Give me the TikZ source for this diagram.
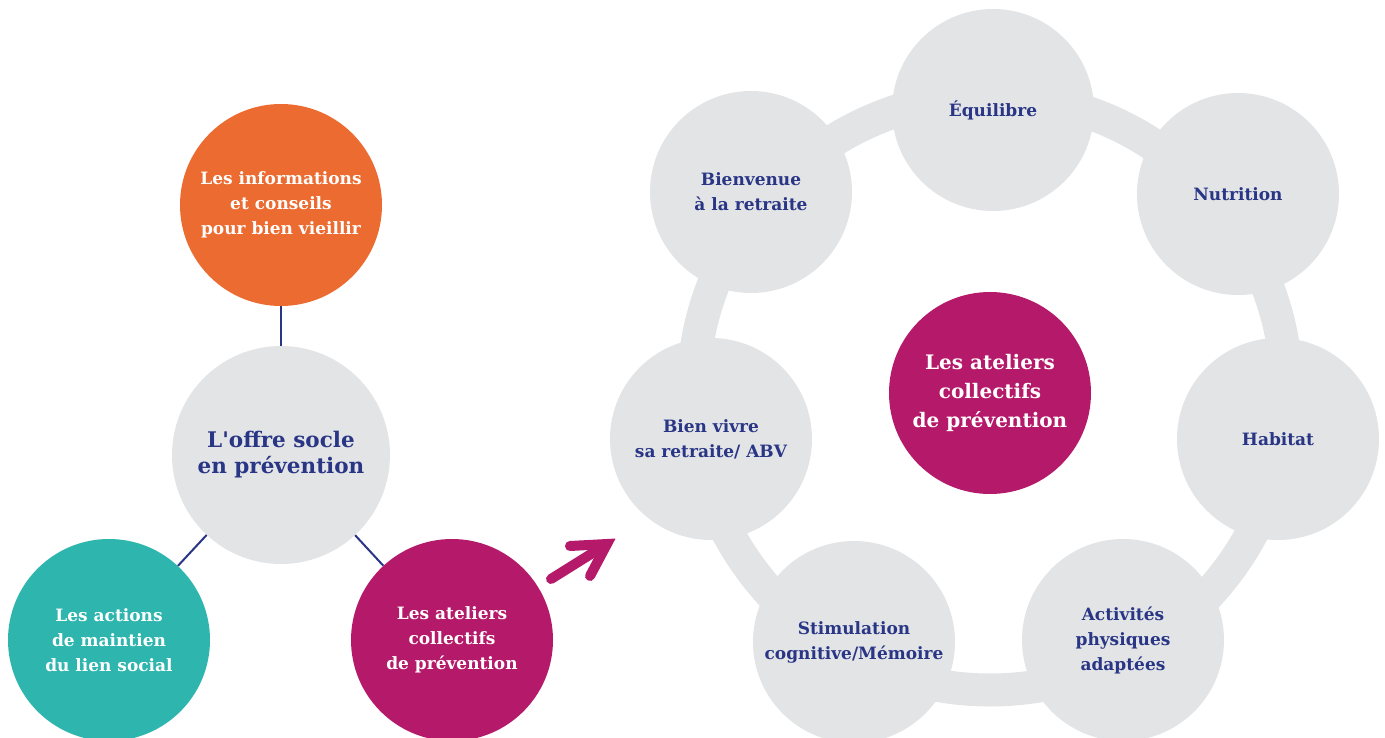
\documentclass[tikz,border=0pt]{standalone}
\usepackage{fontspec}
\setmainfont{DejaVu Serif}
\definecolor{navy}{RGB}{41,53,133}
\definecolor{lgrey}{RGB}{227,228,230}
\definecolor{orng}{RGB}{236,107,48}
\definecolor{tealc}{RGB}{46,181,174}
\definecolor{mag}{RGB}{181,26,106}
\begin{document}
\begin{tikzpicture}[x=1pt,y=-1pt,
  bubble/.style={circle, minimum size=202pt, inner sep=0pt, align=center,
    font=\bfseries\fontsize{17}{25}\selectfont},
  greyb/.style={bubble, fill=lgrey, text=navy},
  orangeb/.style={bubble, fill=orng, text=white},
  tealb/.style={bubble, fill=tealc, text=white},
  magb/.style={bubble, fill=mag, text=white},
  conn/.style={draw=navy, line width=2pt},
  ring/.style={draw=lgrey, line width=33pt},
  bigarrow/.style={draw=mag, line width=10pt, line cap=round, line join=miter}]
\useasboundingbox (0,0) rectangle (1385,738);

% ---- left part ----
\node[orangeb] (info) at (281,205) {Les informations\\et conseils\\pour bien vieillir};
\node[greyb, minimum size=218pt, font=\bfseries\fontsize{21.5}{26}\selectfont] (offre) at (281,455) {L\textquotesingle offre socle\\en prévention};
\node[tealb] (lien) at (109,640) {Les actions\\de maintien\\du lien social};
\node[magb] (atel) at (452,640) {Les ateliers\\collectifs\\de prévention};
\draw[conn] (offre) -- (info);
\draw[conn] (offre) -- (lien);
\draw[conn] (offre) -- (atel);

% ---- arrow ----
\coordinate (a0) at (551,579);
\coordinate (tip) at (607,544);
\coordinate (h1) at (570,546);
\coordinate (h2) at (590,576);
\draw[bigarrow] (a0) -- (tip);
\draw[bigarrow] (h1) -- (tip) -- (h2);

% ---- right ring ----
\coordinate (rc) at (990,393);
\draw[ring] (rc) circle[radius=297];
\node[greyb] (equi) at (993,110) {Équilibre};
\node[greyb] (nutri) at (1238,194) {Nutrition};
\node[greyb] (habit) at (1278,439) {Habitat};
\node[greyb] (activ) at (1123,640) {Activités\\physiques\\adaptées};
\node[greyb] (stim) at (854,642) {Stimulation\\cognitive/Mémoire};
\node[greyb] (bvivre) at (711,439) {Bien vivre\\sa retraite/ ABV};
\node[greyb] (bvenue) at (751,192) {Bienvenue\\à la retraite};
\node[magb, font=\bfseries\fontsize{20}{29}\selectfont] (centre) at (rc) {Les ateliers\\collectifs\\de prévention};
\end{tikzpicture}
\end{document}
